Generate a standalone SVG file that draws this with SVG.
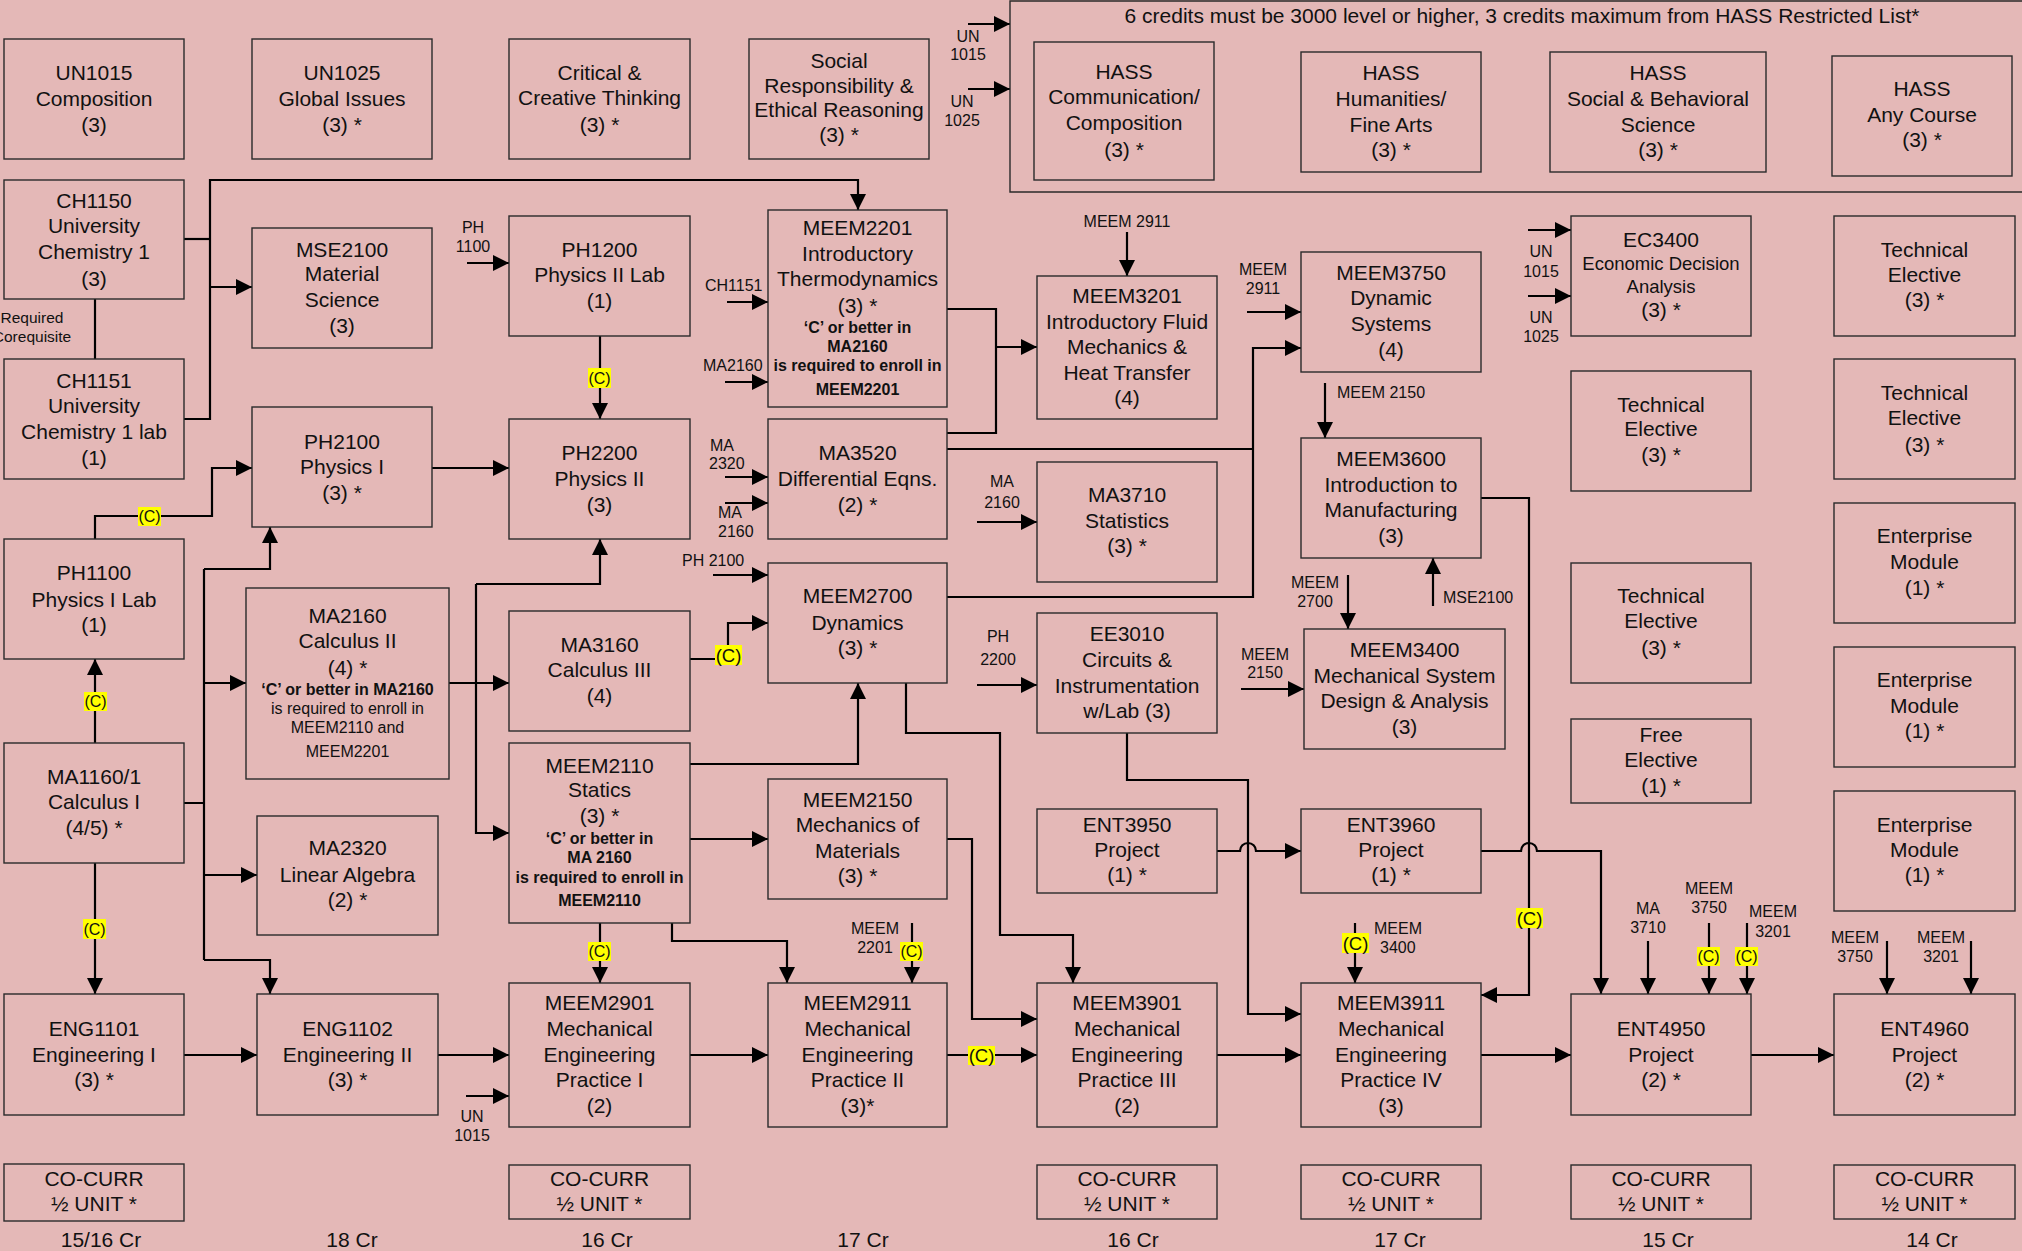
<svg xmlns="http://www.w3.org/2000/svg" width="2022" height="1251" viewBox="0 0 2022 1251">
<defs>
<marker id="ah" markerUnits="userSpaceOnUse" markerWidth="16" markerHeight="16" refX="16" refY="8" orient="auto" viewBox="0 0 16 16"><path d="M0,0L16,8L0,16z" fill="#000"/></marker>
<style>
.bx{fill:none;stroke:#2a2a2a;stroke-width:1.4}
text{font-family:"Liberation Sans",Arial,sans-serif;font-size:21px;text-anchor:middle;fill:#111}
.s{font-size:16px}
.r{font-size:15.5px}
.m{font-size:18.5px}
.b{font-size:16px;font-weight:bold}
.st{text-anchor:start}
.ln{fill:none;stroke:#000;stroke-width:2.2}
.ar{marker-end:url(#ah)}
.hl{fill:#FFFF00}
</style>
</defs>
<rect x="0" y="0" width="2022" height="1251" fill="#E4B8B7"/>

<g id="connectors">
<path class="ln" d="M95,299V359"/>
<path class="ln" d="M184,239H210"/>
<path class="ln ar" d="M184,419H210V180H858V210"/>
<path class="ln ar" d="M210,287H252"/>
<path class="ln ar" d="M467,263H509"/>
<path class="ln ar" d="M600,336V419"/>
<path class="ln ar" d="M727,302H768"/>
<path class="ln ar" d="M725,382H768"/>
<path class="ln ar" d="M968,24H1010"/>
<path class="ln ar" d="M968,89H1010"/>
<path class="ln" d="M947,309H996V433H947"/>
<path class="ln ar" d="M996,347H1037"/>
<path class="ln ar" d="M1127,232V276"/>
<path class="ln ar" d="M1247,312H1301"/>
<path class="ln" d="M947,449H1253"/>
<path class="ln ar" d="M947,597H1253V348H1301"/>
<path class="ln ar" d="M1325,383V438"/>
<path class="ln ar" d="M1528,230H1571"/>
<path class="ln ar" d="M1528,296H1571"/>
<path class="ln ar" d="M432,468H509"/>
<path class="ln ar" d="M95,539V516H212V468H252"/>
<path class="ln ar" d="M95,743V659"/>
<path class="ln" d="M184,803H204M204,569V960"/>
<path class="ln ar" d="M204,569H270V527"/>
<path class="ln ar" d="M204,683H246"/>
<path class="ln ar" d="M204,875H257"/>
<path class="ln ar" d="M204,960H270V994"/>
<path class="ln ar" d="M449,683H509"/>
<path class="ln ar" d="M476,584V833H509"/>
<path class="ln ar" d="M476,584H600V539"/>
<path class="ln ar" d="M725,477H768"/>
<path class="ln ar" d="M725,503H768"/>
<path class="ln ar" d="M713,575H768"/>
<path class="ln ar" d="M690,659H728V623H768"/>
<path class="ln ar" d="M690,764H858V683"/>
<path class="ln ar" d="M977,522H1037"/>
<path class="ln ar" d="M977,685H1037"/>
<path class="ln ar" d="M906,683V733H1000V935H1073V983"/>
<path class="ln ar" d="M690,839H768"/>
<path class="ln ar" d="M947,839H972V1019H1037"/>
<path class="ln ar" d="M600,923V983"/>
<path class="ln ar" d="M672,923V941H787V983"/>
<path class="ln ar" d="M912,923V983"/>
<path class="ln ar" d="M184,1055H257"/>
<path class="ln ar" d="M438,1055H509"/>
<path class="ln ar" d="M466,1096H509"/>
<path class="ln ar" d="M690,1055H768"/>
<path class="ln ar" d="M947,1055H1037"/>
<path class="ln ar" d="M95,863V994"/>
<path class="ln ar" d="M1127,733V780H1248V1014H1301"/>
<path class="ln ar" d="M1217,851H1240A8,8 0 0 1 1256,851H1301"/>
<path class="ln ar" d="M1348,575V629"/>
<path class="ln ar" d="M1433,606V558"/>
<path class="ln ar" d="M1241,689H1304"/>
<path class="ln ar" d="M1481,498H1529V995H1481"/>
<path class="ln ar" d="M1481,851H1521A8,8 0 0 1 1537,851H1601V994"/>
<path class="ln ar" d="M1355,923V983"/>
<path class="ln ar" d="M1217,1055H1301"/>
<path class="ln ar" d="M1481,1055H1571"/>
<path class="ln ar" d="M1648,941V994"/>
<path class="ln ar" d="M1709,923V994"/>
<path class="ln ar" d="M1747,923V994"/>
<path class="ln ar" d="M1751,1055H1834"/>
<path class="ln ar" d="M1887,941V994"/>
<path class="ln ar" d="M1971,941V994"/>

<g id="c-marks">
<rect class="hl" x="588" y="368" width="23" height="20"/><text class="s" x="599.5" y="384">(C)</text>
<rect class="hl" x="138" y="507" width="23" height="19"/><text class="s" x="149.5" y="522">(C)</text>
<rect class="hl" x="84" y="692" width="23" height="19"/><text class="s" x="95.5" y="707">(C)</text>
<rect class="hl" x="83" y="919" width="23" height="20"/><text class="s" x="94.5" y="935">(C)</text>
<rect class="hl" x="715" y="645" width="27" height="20"/><text class="m" x="728.5" y="662">(C)</text>
<rect class="hl" x="588" y="942" width="23" height="19"/><text class="s" x="599.5" y="957">(C)</text>
<rect class="hl" x="900" y="942" width="23" height="19"/><text class="s" x="911.5" y="957">(C)</text>
<rect class="hl" x="968" y="1046" width="27" height="19"/><text class="m" x="981.5" y="1062">(C)</text>
<rect class="hl" x="1342" y="933" width="27" height="20"/><text class="m" x="1355.5" y="950">(C)</text>
<rect class="hl" x="1516" y="908" width="27" height="20"/><text class="m" x="1529.5" y="925">(C)</text>
<rect class="hl" x="1697" y="947" width="23" height="19"/><text class="s" x="1708.5" y="962">(C)</text>
<rect class="hl" x="1735" y="947" width="23" height="19"/><text class="s" x="1746.5" y="962">(C)</text>
</g>

<g id="labels">
<text class="r" x="32" y="323">Required</text>
<text class="r" x="32" y="342">Corequisite</text>
<text class="s" x="473" y="233">PH</text><text class="s" x="473" y="252">1100</text>
<text class="s st" x="705" y="291">CH1151</text>
<text class="s st" x="703" y="371">MA2160</text>
<text class="s" x="968" y="42">UN</text><text class="s" x="968" y="60">1015</text>
<text class="s" x="962" y="107">UN</text><text class="s" x="962" y="126">1025</text>
<text class="s" x="1127" y="227">MEEM 2911</text>
<text class="s" x="1263" y="275">MEEM</text><text class="s" x="1263" y="294">2911</text>
<text class="s st" x="1337" y="398">MEEM 2150</text>
<text class="s" x="1541" y="257">UN</text><text class="s" x="1541" y="277">1015</text>
<text class="s" x="1541" y="323">UN</text><text class="s" x="1541" y="342">1025</text>
<text class="s st" x="710" y="451">MA</text><text class="s st" x="709" y="469">2320</text>
<text class="s st" x="718" y="518">MA</text><text class="s st" x="718" y="537">2160</text>
<text class="s st" x="682" y="566">PH 2100</text>
<text class="s" x="1002" y="487">MA</text><text class="s" x="1002" y="508">2160</text>
<text class="s" x="998" y="642">PH</text><text class="s" x="998" y="665">2200</text>
<text class="s" x="1315" y="588">MEEM</text><text class="s" x="1315" y="607">2700</text>
<text class="s st" x="1443" y="603">MSE2100</text>
<text class="s" x="1265" y="660">MEEM</text><text class="s" x="1265" y="678">2150</text>
<text class="s" x="875" y="934">MEEM</text><text class="s" x="875" y="953">2201</text>
<text class="s st" x="1374" y="934">MEEM</text><text class="s st" x="1380" y="953">3400</text>
<text class="s" x="472" y="1122">UN</text><text class="s" x="472" y="1141">1015</text>
<text class="s" x="1648" y="914">MA</text><text class="s" x="1648" y="933">3710</text>
<text class="s" x="1709" y="894">MEEM</text><text class="s" x="1709" y="913">3750</text>
<text class="s" x="1773" y="917">MEEM</text><text class="s" x="1773" y="937">3201</text>
<text class="s" x="1855" y="943">MEEM</text><text class="s" x="1855" y="962">3750</text>
<text class="s" x="1941" y="943">MEEM</text><text class="s" x="1941" y="962">3201</text>
</g>
</g>

<g id="UN1015"><rect class="bx" x="4" y="39" width="180" height="120"/><text x="94" y="80">UN1015</text><text x="94" y="106">Composition</text><text x="94" y="132">(3)</text></g>
<g id="UN1025"><rect class="bx" x="252" y="39" width="180" height="120"/><text x="342" y="80">UN1025</text><text x="342" y="106">Global Issues</text><text x="342" y="132">(3) *</text></g>
<g id="CCT"><rect class="bx" x="509" y="39" width="181" height="120"/><text x="599.5" y="80">Critical &amp;</text><text x="599.5" y="105">Creative Thinking</text><text x="599.5" y="132">(3) *</text></g>
<g id="SRER"><rect class="bx" x="749" y="39" width="180" height="120"/><text x="839" y="68">Social</text><text x="839" y="93">Responsibility &amp;</text><text x="839" y="117">Ethical Reasoning</text><text x="839" y="142">(3) *</text></g>
<g id="HASS"><path class="bx" d="M2030,1H1010V192H2030"/><text x="1522" y="23">6 credits must be 3000 level or higher, 3 credits maximum from HASS Restricted List*</text></g>
<g id="HASS-comm"><rect class="bx" x="1034" y="42" width="180" height="138"/><text x="1124" y="79">HASS</text><text x="1124" y="104">Communication/</text><text x="1124" y="130">Composition</text><text x="1124" y="157">(3) *</text></g>
<g id="HASS-hum"><rect class="bx" x="1301" y="52" width="180" height="120"/><text x="1391" y="80">HASS</text><text x="1391" y="106">Humanities/</text><text x="1391" y="132">Fine Arts</text><text x="1391" y="157">(3) *</text></g>
<g id="HASS-soc"><rect class="bx" x="1550" y="52" width="216" height="120"/><text x="1658" y="80">HASS</text><text x="1658" y="106">Social &amp; Behavioral</text><text x="1658" y="132">Science</text><text x="1658" y="157">(3) *</text></g>
<g id="HASS-any"><rect class="bx" x="1832" y="56" width="180" height="120"/><text x="1922" y="96">HASS</text><text x="1922" y="122">Any Course</text><text x="1922" y="147">(3) *</text></g>
<g id="CH1150"><rect class="bx" x="4" y="180" width="180" height="119"/><text x="94" y="208">CH1150</text><text x="94" y="233">University</text><text x="94" y="259">Chemistry 1</text><text x="94" y="286">(3)</text></g>
<g id="CH1151"><rect class="bx" x="4" y="359" width="180" height="120"/><text x="94" y="388">CH1151</text><text x="94" y="413">University</text><text x="94" y="439">Chemistry 1 lab</text><text x="94" y="465">(1)</text></g>
<g id="MSE2100"><rect class="bx" x="252" y="228" width="180" height="120"/><text x="342" y="257">MSE2100</text><text x="342" y="281">Material</text><text x="342" y="307">Science</text><text x="342" y="333">(3)</text></g>
<g id="PH1200"><rect class="bx" x="509" y="216" width="181" height="120"/><text x="599.5" y="257">PH1200</text><text x="599.5" y="282">Physics II Lab</text><text x="599.5" y="308">(1)</text></g>
<g id="MEEM2201"><rect class="bx" x="768" y="210" width="179" height="197"/><text x="857.5" y="235">MEEM2201</text><text x="857.5" y="261">Introductory</text><text x="857.5" y="286">Thermodynamics</text><text x="857.5" y="313">(3) *</text><text class="b" x="857.5" y="333">‘C’ or better in</text><text class="b" x="857.5" y="352">MA2160</text><text class="b" x="857.5" y="371">is required to enroll in</text><text class="b" x="857.5" y="395">MEEM2201</text></g>
<g id="MEEM3201"><rect class="bx" x="1037" y="276" width="180" height="143"/><text x="1127" y="303">MEEM3201</text><text x="1127" y="329">Introductory Fluid</text><text x="1127" y="354">Mechanics &amp;</text><text x="1127" y="380">Heat Transfer</text><text x="1127" y="405">(4)</text></g>
<g id="MEEM3750"><rect class="bx" x="1301" y="252" width="180" height="120"/><text x="1391" y="280">MEEM3750</text><text x="1391" y="305">Dynamic</text><text x="1391" y="331">Systems</text><text x="1391" y="357">(4)</text></g>
<g id="EC3400"><rect class="bx" x="1571" y="216" width="180" height="120"/><text x="1661" y="247">EC3400</text><text class="m" x="1661" y="270">Economic Decision</text><text class="m" x="1661" y="293">Analysis</text><text x="1661" y="317">(3) *</text></g>
<g id="TE1"><rect class="bx" x="1834" y="216" width="181" height="120"/><text x="1924.5" y="257">Technical</text><text x="1924.5" y="282">Elective</text><text x="1924.5" y="307">(3) *</text></g>
<g id="PH2100"><rect class="bx" x="252" y="407" width="180" height="120"/><text x="342" y="449">PH2100</text><text x="342" y="474">Physics I</text><text x="342" y="500">(3) *</text></g>
<g id="PH2200"><rect class="bx" x="509" y="419" width="181" height="120"/><text x="599.5" y="460">PH2200</text><text x="599.5" y="486">Physics II</text><text x="599.5" y="512">(3)</text></g>
<g id="MA3520"><rect class="bx" x="768" y="419" width="179" height="120"/><text x="857.5" y="460">MA3520</text><text x="857.5" y="486">Differential Eqns.</text><text x="857.5" y="512">(2) *</text></g>
<g id="MA3710"><rect class="bx" x="1037" y="462" width="180" height="120"/><text x="1127" y="502">MA3710</text><text x="1127" y="528">Statistics</text><text x="1127" y="553">(3) *</text></g>
<g id="MEEM3600"><rect class="bx" x="1301" y="438" width="180" height="120"/><text x="1391" y="466">MEEM3600</text><text x="1391" y="492">Introduction to</text><text x="1391" y="517">Manufacturing</text><text x="1391" y="543">(3)</text></g>
<g id="TE2"><rect class="bx" x="1571" y="371" width="180" height="120"/><text x="1661" y="412">Technical</text><text x="1661" y="436">Elective</text><text x="1661" y="462">(3) *</text></g>
<g id="TE3"><rect class="bx" x="1834" y="359" width="181" height="120"/><text x="1924.5" y="400">Technical</text><text x="1924.5" y="425">Elective</text><text x="1924.5" y="452">(3) *</text></g>
<g id="PH1100"><rect class="bx" x="4" y="539" width="180" height="120"/><text x="94" y="580">PH1100</text><text x="94" y="607">Physics I Lab</text><text x="94" y="632">(1)</text></g>
<g id="MA2160"><rect class="bx" x="246" y="588" width="203" height="191"/><text x="347.5" y="623">MA2160</text><text x="347.5" y="648">Calculus II</text><text x="347.5" y="675">(4) *</text><text class="b" x="347.5" y="695">‘C’ or better in MA2160</text><text class="s" x="347.5" y="714">is required to enroll in</text><text class="s" x="347.5" y="733">MEEM2110 and</text><text class="s" x="347.5" y="757">MEEM2201</text></g>
<g id="MA3160"><rect class="bx" x="509" y="611" width="181" height="120"/><text x="599.5" y="652">MA3160</text><text x="599.5" y="677">Calculus III</text><text x="599.5" y="703">(4)</text></g>
<g id="MEEM2700"><rect class="bx" x="768" y="563" width="179" height="120"/><text x="857.5" y="603">MEEM2700</text><text x="857.5" y="630">Dynamics</text><text x="857.5" y="655">(3) *</text></g>
<g id="EE3010"><rect class="bx" x="1037" y="613" width="180" height="120"/><text x="1127" y="641">EE3010</text><text x="1127" y="667">Circuits &amp;</text><text x="1127" y="693">Instrumentation</text><text x="1127" y="718">w/Lab (3)</text></g>
<g id="MEEM3400"><rect class="bx" x="1304" y="629" width="201" height="120"/><text x="1404.5" y="657">MEEM3400</text><text x="1404.5" y="683">Mechanical System</text><text x="1404.5" y="708">Design &amp; Analysis</text><text x="1404.5" y="734">(3)</text></g>
<g id="TE4"><rect class="bx" x="1571" y="563" width="180" height="120"/><text x="1661" y="603">Technical</text><text x="1661" y="628">Elective</text><text x="1661" y="655">(3) *</text></g>
<g id="FE"><rect class="bx" x="1571" y="719" width="180" height="84"/><text x="1661" y="742">Free</text><text x="1661" y="767">Elective</text><text x="1661" y="793">(1) *</text></g>
<g id="EM1"><rect class="bx" x="1834" y="503" width="181" height="120"/><text x="1924.5" y="543">Enterprise</text><text x="1924.5" y="569">Module</text><text x="1924.5" y="595">(1) *</text></g>
<g id="EM2"><rect class="bx" x="1834" y="647" width="181" height="120"/><text x="1924.5" y="687">Enterprise</text><text x="1924.5" y="713">Module</text><text x="1924.5" y="738">(1) *</text></g>
<g id="EM3"><rect class="bx" x="1834" y="791" width="181" height="120"/><text x="1924.5" y="832">Enterprise</text><text x="1924.5" y="857">Module</text><text x="1924.5" y="882">(1) *</text></g>
<g id="MA1160"><rect class="bx" x="4" y="743" width="180" height="120"/><text x="94" y="784">MA1160/1</text><text x="94" y="809">Calculus I</text><text x="94" y="835">(4/5) *</text></g>
<g id="MA2320"><rect class="bx" x="257" y="816" width="181" height="119"/><text x="347.5" y="855">MA2320</text><text x="347.5" y="882">Linear Algebra</text><text x="347.5" y="907">(2) *</text></g>
<g id="MEEM2110"><rect class="bx" x="509" y="743" width="181" height="180"/><text x="599.5" y="773">MEEM2110</text><text x="599.5" y="797">Statics</text><text x="599.5" y="823">(3) *</text><text class="b" x="599.5" y="844">‘C’ or better in</text><text class="b" x="599.5" y="863">MA 2160</text><text class="b" x="599.5" y="883">is required to enroll in</text><text class="b" x="599.5" y="906">MEEM2110</text></g>
<g id="MEEM2150"><rect class="bx" x="768" y="779" width="179" height="120"/><text x="857.5" y="807">MEEM2150</text><text x="857.5" y="832">Mechanics of</text><text x="857.5" y="858">Materials</text><text x="857.5" y="883">(3) *</text></g>
<g id="ENT3950"><rect class="bx" x="1037" y="809" width="180" height="84"/><text x="1127" y="832">ENT3950</text><text x="1127" y="857">Project</text><text x="1127" y="882">(1) *</text></g>
<g id="ENT3960"><rect class="bx" x="1301" y="809" width="180" height="84"/><text x="1391" y="832">ENT3960</text><text x="1391" y="857">Project</text><text x="1391" y="882">(1) *</text></g>
<g id="ENG1101"><rect class="bx" x="4" y="994" width="180" height="121"/><text x="94" y="1036">ENG1101</text><text x="94" y="1062">Engineering I</text><text x="94" y="1087">(3) *</text></g>
<g id="ENG1102"><rect class="bx" x="257" y="994" width="181" height="121"/><text x="347.5" y="1036">ENG1102</text><text x="347.5" y="1062">Engineering II</text><text x="347.5" y="1087">(3) *</text></g>
<g id="MEEM2901"><rect class="bx" x="509" y="983" width="181" height="144"/><text x="599.5" y="1010">MEEM2901</text><text x="599.5" y="1036">Mechanical</text><text x="599.5" y="1062">Engineering</text><text x="599.5" y="1087">Practice I</text><text x="599.5" y="1113">(2)</text></g>
<g id="MEEM2911"><rect class="bx" x="768" y="983" width="179" height="144"/><text x="857.5" y="1010">MEEM2911</text><text x="857.5" y="1036">Mechanical</text><text x="857.5" y="1062">Engineering</text><text x="857.5" y="1087">Practice II</text><text x="857.5" y="1113">(3)*</text></g>
<g id="MEEM3901"><rect class="bx" x="1037" y="983" width="180" height="144"/><text x="1127" y="1010">MEEM3901</text><text x="1127" y="1036">Mechanical</text><text x="1127" y="1062">Engineering</text><text x="1127" y="1087">Practice III</text><text x="1127" y="1113">(2)</text></g>
<g id="MEEM3911"><rect class="bx" x="1301" y="983" width="180" height="144"/><text x="1391" y="1010">MEEM3911</text><text x="1391" y="1036">Mechanical</text><text x="1391" y="1062">Engineering</text><text x="1391" y="1087">Practice IV</text><text x="1391" y="1113">(3)</text></g>
<g id="ENT4950"><rect class="bx" x="1571" y="994" width="180" height="121"/><text x="1661" y="1036">ENT4950</text><text x="1661" y="1062">Project</text><text x="1661" y="1087">(2) *</text></g>
<g id="ENT4960"><rect class="bx" x="1834" y="994" width="181" height="121"/><text x="1924.5" y="1036">ENT4960</text><text x="1924.5" y="1062">Project</text><text x="1924.5" y="1087">(2) *</text></g>
<g id="CC1"><rect class="bx" x="4" y="1164" width="180" height="57"/><text x="94" y="1186">CO-CURR</text><text x="94" y="1211">½ UNIT *</text></g>
<g id="CC3"><rect class="bx" x="509" y="1165" width="181" height="54"/><text x="599.5" y="1186">CO-CURR</text><text x="599.5" y="1211">½ UNIT *</text></g>
<g id="CC5"><rect class="bx" x="1037" y="1165" width="180" height="54"/><text x="1127" y="1186">CO-CURR</text><text x="1127" y="1211">½ UNIT *</text></g>
<g id="CC6"><rect class="bx" x="1301" y="1165" width="180" height="54"/><text x="1391" y="1186">CO-CURR</text><text x="1391" y="1211">½ UNIT *</text></g>
<g id="CC7"><rect class="bx" x="1571" y="1165" width="180" height="54"/><text x="1661" y="1186">CO-CURR</text><text x="1661" y="1211">½ UNIT *</text></g>
<g id="CC8"><rect class="bx" x="1834" y="1165" width="181" height="54"/><text x="1924.5" y="1186">CO-CURR</text><text x="1924.5" y="1211">½ UNIT *</text></g>
<g id="credits">
<text x="101" y="1247">15/16 Cr</text><text x="352" y="1247">18 Cr</text><text x="607" y="1247">16 Cr</text><text x="863" y="1247">17 Cr</text>
<text x="1133" y="1247">16 Cr</text><text x="1400" y="1247">17 Cr</text><text x="1668" y="1247">15 Cr</text><text x="1932" y="1247">14 Cr</text>
</g>
</svg>
